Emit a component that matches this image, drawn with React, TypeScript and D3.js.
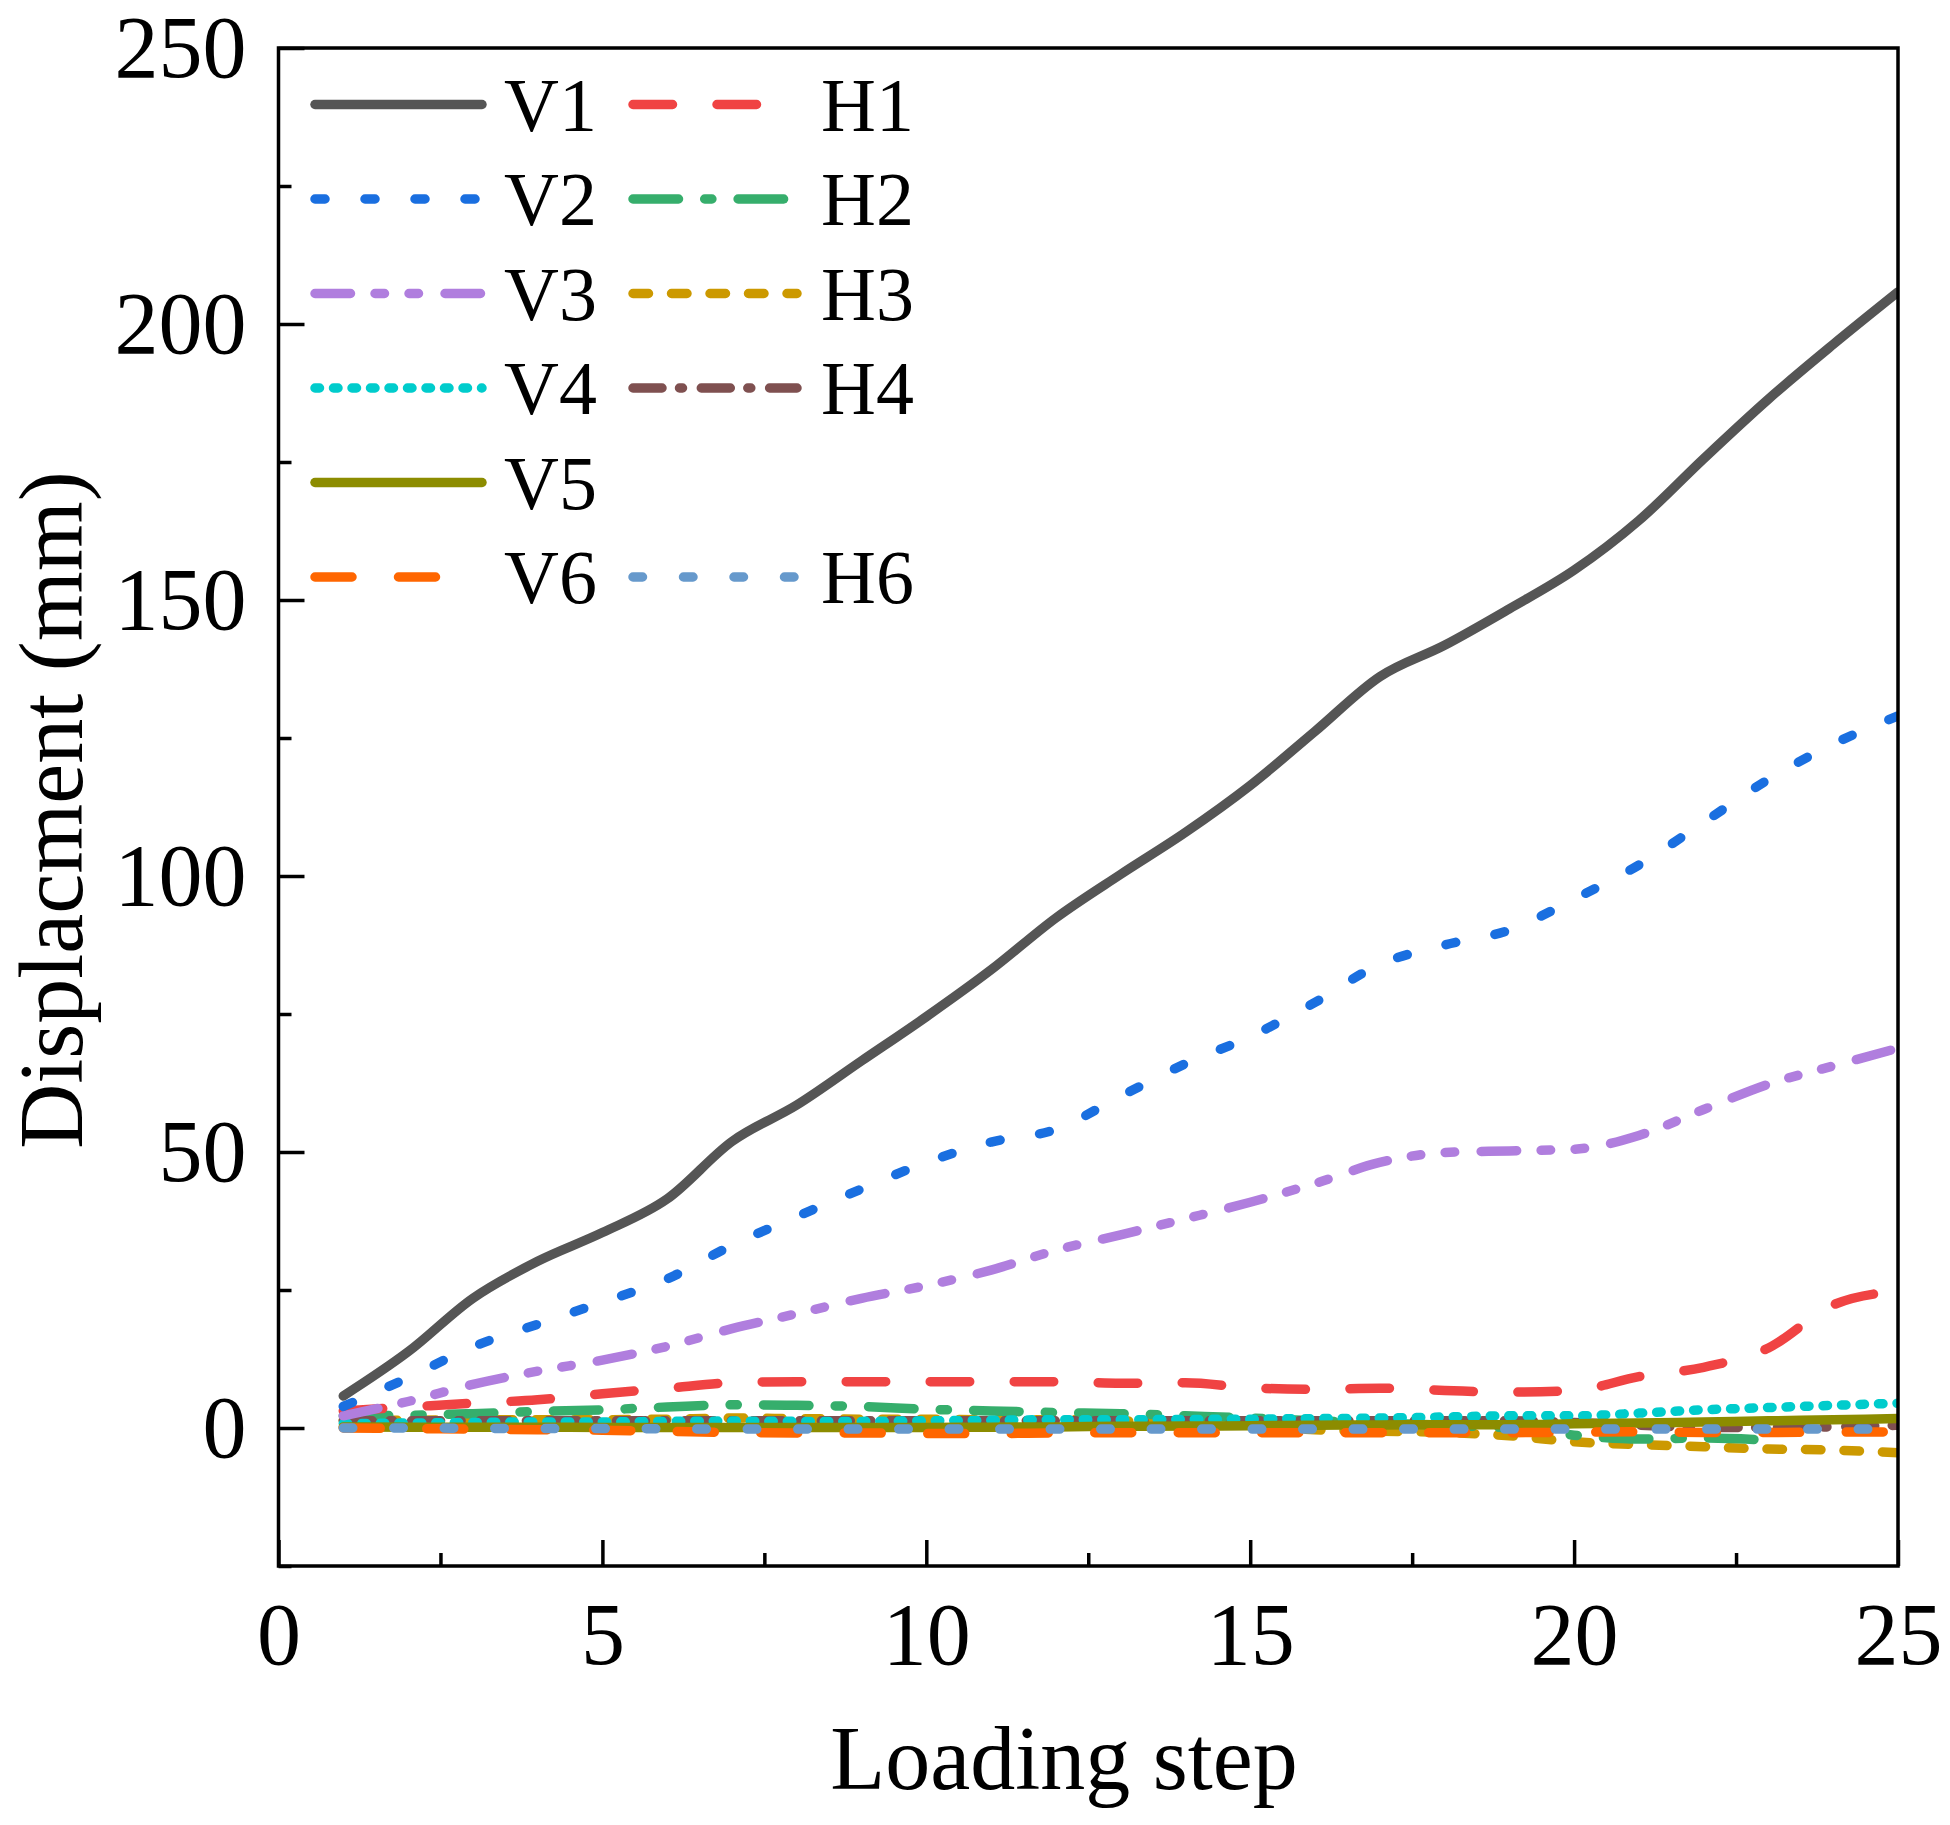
import React, { useEffect, useRef } from 'react';
import * as d3 from 'd3';

// loading steps (x)
const steps = [1, 2, 3, 4, 5, 6, 7, 8, 9, 10, 11, 12, 13, 14, 15, 16, 17, 18, 19, 20, 21, 22, 23, 24, 25];
const stepsH2 = [1, 2, 3, 4, 5, 6, 7, 8, 9, 10, 11, 12, 13, 14, 15, 16, 17, 18, 19, 20, 21, 22, 23];

// displacement (mm)
const v1 = [5.8, 13.8, 23.5, 30.2, 35.4, 41.5, 51.9, 58.5, 66.5, 74.5, 83.0, 92.4, 100.3, 107.9, 116.4, 126.2, 136.1, 141.8, 148.4, 155.4, 164.4, 175.6, 186.4, 196.3, 205.8];
const v2 = [3.9, 9.1, 14.7, 18.8, 22.8, 27.0, 33.1, 38.3, 43.3, 48.1, 51.8, 54.1, 60.1, 66.0, 70.9, 77.1, 84.0, 87.5, 90.2, 95.8, 102.0, 109.7, 117.5, 123.9, 129.0];
const v3 = [2.2, 4.8, 7.9, 10.3, 12.3, 14.8, 18.0, 20.7, 23.5, 25.8, 28.6, 32.2, 35.0, 37.9, 40.9, 44.3, 48.1, 49.9, 50.2, 50.5, 53.0, 57.7, 62.3, 65.6, 68.8];
const v4 = [0.8, 0.9, 1.0, 1.1, 1.1, 1.2, 1.25, 1.2, 1.2, 1.3, 1.4, 1.5, 1.5, 1.55, 1.6, 1.7, 1.8, 2.0, 2.2, 2.2, 2.7, 3.3, 3.7, 4.1, 4.5];
const v5 = [0.2, 0.15, 0.15, 0.15, 0.1, 0.1, 0.1, 0.1, 0.1, 0.1, 0.15, 0.2, 0.3, 0.35, 0.4, 0.5, 0.55, 0.6, 0.6, 0.75, 0.9, 1.1, 1.3, 1.5, 1.7];
const v6 = [0.0, -0.1, -0.2, -0.3, -0.4, -0.6, -0.8, -0.9, -0.9, -1.0, -1.0, -0.9, -0.85, -0.85, -0.85, -0.85, -0.85, -0.85, -0.85, -0.75, -0.7, -0.8, -0.8, -0.75, -0.7];
const h1 = [3.1, 3.8, 4.5, 5.1, 6.2, 7.2, 8.2, 8.4, 8.4, 8.4, 8.4, 8.4, 8.1, 8.2, 7.3, 7.0, 7.2, 6.8, 6.5, 6.8, 9.3, 11.0, 14.5, 22.3, 24.8];
const h2 = [2.2, 2.3, 2.6, 3.0, 3.3, 3.8, 4.2, 4.1, 3.9, 3.4, 3.1, 2.8, 2.6, 2.2, 1.8, 1.3, 0.9, 0.5, 0.0, -1.3, -2.0, -1.8, -2.2];
const h3 = [1.4, 1.4, 1.5, 1.5, 1.5, 1.6, 1.8, 1.7, 1.6, 1.6, 1.5, 1.5, 1.3, 1.0, 0.5, -0.3, -0.6, -0.8, -1.4, -2.5, -3.0, -3.4, -3.8, -4.0, -4.5];
const h4 = [1.3, 1.3, 1.3, 1.3, 1.3, 1.3, 1.3, 1.3, 1.3, 1.3, 1.3, 1.3, 1.3, 1.3, 1.3, 1.3, 1.3, 1.3, 1.3, 1.0, 0.5, 0.1, 0.1, 0.2, 0.5];
const h6 = [0.0, 0.0, -0.05, -0.1, -0.1, -0.15, -0.2, -0.2, -0.2, -0.2, -0.2, -0.2, -0.2, -0.2, -0.2, -0.2, -0.2, -0.2, -0.2, -0.2, -0.2, -0.2, -0.2, -0.2, -0.2];

const xTicks = [0, 5, 10, 15, 20, 25];
const xMinor = [2.5, 7.5, 12.5, 17.5, 22.5];
const yTicks = [0, 50, 100, 150, 200, 250];
const yMinor = [-25, 25, 75, 125, 175, 225];

const W = 1950;
const H = 1825;
const FONT = "'Liberation Serif', 'Times New Roman', serif";

const series = [
  { name: 'V1', xs: steps, ys: v1, color: '#555555', dash: null, col: 0, row: 0 },
  { name: 'V2', xs: steps, ys: v2, color: '#1a6fe0', dash: '10,40', col: 0, row: 1 },
  { name: 'V3', xs: steps, ys: v3, color: '#b07ede', dash: '35.5,24.5,9.5,24.5,9.5,26.5', col: 0, row: 2 },
  { name: 'V4', xs: steps, ys: v4, color: '#00cccc', dash: '4.5,14', col: 0, row: 3 },
  { name: 'V5', xs: steps, ys: v5, color: '#8c8c00', dash: null, col: 0, row: 4 },
  { name: 'V6', xs: steps, ys: v6, color: '#ff6600', dash: '37,46.5', col: 0, row: 5 },
  { name: 'H1', xs: steps, ys: h1, color: '#f04343', dash: '39.5,44.5', col: 1, row: 0 },
  { name: 'H2', xs: stepsH2, ys: h2, color: '#36ae6c', dash: '45.5,26.2,7.2,26.2', col: 1, row: 1 },
  { name: 'H3', xs: steps, ys: h3, color: '#cc9900', dash: '15.5,23', col: 1, row: 2 },
  { name: 'H4', xs: steps, ys: h4, color: '#7f5050', dash: '29,17.5,3,18.8', col: 1, row: 3 },
  { name: 'H6', xs: steps, ys: h6, color: '#6699cc', dash: '9.5,41', col: 1, row: 5 },
];

// bottom -> top
const drawOrder = ['H3', 'H2', 'H4', 'V4', 'V5', 'V6', 'H6', 'H1', 'V3', 'V2', 'V1'];

export default function App() {
  const svgRef = useRef<SVGSVGElement>(null);

  useEffect(() => {
    if (!svgRef.current) return;
    const svg = d3.select(svgRef.current);
    svg.selectAll('*').remove();

    const left = 278.5, right = 1898, top = 48, bottom = 1566;
    const x = d3.scaleLinear().domain([0, 25]).range([left, right]);
    const y = d3.scaleLinear().domain([-25, 250]).range([bottom, top]);

    svg.append('rect').attr('width', W).attr('height', H).attr('fill', '#fff');

    const clip = svg.append('defs').append('clipPath').attr('id', 'plot-clip');
    clip.append('rect').attr('x', left).attr('y', top).attr('width', right - left).attr('height', bottom - top);

    // lines
    const lineGen = d3.line<[number, number]>()
      .x(d => x(d[0]))
      .y(d => y(d[1]))
      .curve(d3.curveMonotoneX);

    const lines = svg.append('g').attr('clip-path', 'url(#plot-clip)');
    drawOrder.forEach(n => {
      const s = series.find(d => d.name === n)!;
      const pts = s.xs.map((xv, i) => [xv, s.ys[i]] as [number, number]);
      lines.append('path')
        .attr('d', lineGen(pts))
        .attr('fill', 'none')
        .attr('stroke', s.color)
        .attr('stroke-width', 9.5)
        .attr('stroke-linecap', 'round')
        .attr('stroke-linejoin', 'round')
        .attr('stroke-dasharray', s.dash ?? null);
    });

    // axes
    const styleAxis = (g: d3.Selection<SVGGElement, unknown, null, undefined>) => {
      g.select('.domain').remove();
      g.selectAll('line').attr('stroke', '#000').attr('stroke-width', 3.5);
      g.attr('font-family', FONT).attr('font-size', 88);
      g.selectAll('text').attr('fill', '#000');
    };

    svg.append('g')
      .attr('transform', `translate(0,${bottom})`)
      .call(d3.axisBottom(x).tickValues(xTicks).tickSize(-26).tickPadding(35.5).tickFormat(d3.format('d')))
      .call(styleAxis);
    svg.append('g')
      .attr('transform', `translate(0,${bottom})`)
      .call(d3.axisBottom(x).tickValues(xMinor).tickSize(-13).tickFormat(() => ''))
      .call(styleAxis);
    svg.append('g')
      .attr('transform', `translate(${left},0)`)
      .call(d3.axisLeft(y).tickValues(yTicks).tickSize(-26).tickPadding(32).tickFormat(d3.format('d')))
      .call(styleAxis);
    svg.append('g')
      .attr('transform', `translate(${left},0)`)
      .call(d3.axisLeft(y).tickValues(yMinor).tickSize(-13).tickFormat(() => ''))
      .call(styleAxis);

    // frame
    svg.append('rect')
      .attr('x', left).attr('y', top)
      .attr('width', right - left).attr('height', bottom - top)
      .attr('fill', 'none').attr('stroke', '#000').attr('stroke-width', 3.5);

    // axis titles
    svg.append('text')
      .attr('x', 1064).attr('y', 1789)
      .attr('text-anchor', 'middle')
      .attr('font-family', FONT).attr('font-size', 90)
      .text('Loading step');
    svg.append('text')
      .attr('transform', `translate(82,810) rotate(-90)`)
      .attr('text-anchor', 'middle')
      .attr('font-family', FONT).attr('font-size', 90)
      .text('Displacment (mm)');

    // legend
    const legCols = [{ x1: 315, x2: 482, tx: 504 }, { x1: 633, x2: 797, tx: 821 }];
    const legY0 = 104.5, legDy = 94.5;
    const leg = svg.append('g');
    series.forEach(s => {
      const c = legCols[s.col];
      const ly = legY0 + s.row * legDy;
      leg.append('line')
        .attr('x1', c.x1).attr('x2', c.x2).attr('y1', ly).attr('y2', ly)
        .attr('stroke', s.color).attr('stroke-width', 9.5)
        .attr('stroke-linecap', 'round')
        .attr('stroke-dasharray', s.dash ?? null);
      leg.append('text')
        .attr('x', c.tx).attr('y', ly + 26)
        .attr('font-family', FONT).attr('font-size', 76)
        .text(s.name);
    });
  }, []);

  return (
    <svg
      ref={svgRef}
      width={W}
      height={H}
      viewBox={`0 0 ${W} ${H}`}
      style={{ position: 'absolute', left: 0, top: 0 }}
    />
  );
}
